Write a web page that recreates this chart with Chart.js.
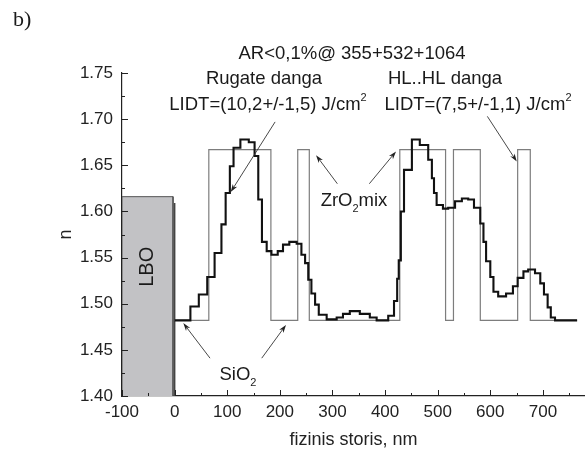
<!DOCTYPE html>
<html><head><meta charset="utf-8">
<script src="https://cdn.jsdelivr.net/npm/chart.js@4.4.0/dist/chart.umd.min.js"></script>
<style>html,body{margin:0;padding:0;background:#fff;}canvas{display:block;}</style>
</head><body>
<canvas id="c" width="585" height="455"></canvas>
<script>
// ---- data ----
const designX = [0,65,183,234,256,428,515,530,581,652,676,765];
const designN = [1.482,1.667,1.482,1.667,1.482,1.667,1.482,1.667,1.482,1.667,1.482,1.482];
const measX = [0,30,46,62,76,89,97,105,112,125,141,152,159,166,175,184,196,206,218,232,241,248,254,260,267,274,289,308,320,333,352,371,384,406,417,423,426,430,436,451,466,482,489,493,498,510,520,533,546,558,569,581,587,592,600,606,615,630,643,652,663,672,685,695,702,709,715,723,765];
const measN = [1.482,1.497,1.510,1.529,1.555,1.586,1.620,1.649,1.669,1.678,1.675,1.660,1.613,1.567,1.557,1.553,1.557,1.564,1.567,1.565,1.553,1.544,1.526,1.511,1.499,1.488,1.483,1.485,1.489,1.492,1.489,1.485,1.482,1.487,1.503,1.527,1.547,1.600,1.645,1.678,1.672,1.656,1.636,1.620,1.607,1.603,1.604,1.611,1.614,1.613,1.604,1.587,1.567,1.546,1.529,1.513,1.508,1.511,1.519,1.528,1.535,1.537,1.533,1.522,1.510,1.496,1.485,1.482,1.482];
const substrateX = [-100,-100,-3,-3];
const substrateN = [1.40,1.616,1.616,1.40];
const shadowX = [0,0];
const shadowN = [1.609,1.40];
const xTicks = [-100,0,100,200,300,400,500,600,700];
const xMinorTicks = [-50,50,150,250,350,450,550,650,750];
const yTicks = [1.40,1.45,1.50,1.55,1.60,1.65,1.70,1.75];
const yMinorTicks = [1.425,1.475,1.525,1.575,1.625,1.675,1.725];

// annotation arrows (data coords): [x0,n0,x1,n1], head at (x1,n1)
const arrows = [
  [191,1.697,106.6,1.621],
  [309.3,1.630,268.8,1.661],
  [370.1,1.630,420.8,1.665],
  [594.4,1.703,650.3,1.654],
  [67.3,1.441,16.5,1.479],
  [165.6,1.441,211.7,1.477]
];

const FONT = '"Liberation Sans", Arial, sans-serif';
const toPts = (xs, ys) => xs.map((x, i) => ({x: x, y: ys[i]}));

function drawRich(ctx, parts, x, y, size, align) {
  const small = Math.round(size * 0.62);
  let w = 0;
  const widths = parts.map(p => {
    ctx.font = (p.sub || p.sup ? small : size) + 'px ' + FONT;
    const m = ctx.measureText(p.t).width; w += m; return m;
  });
  let cx = align === 'center' ? x - w / 2 : (align === 'right' ? x - w : x);
  ctx.textAlign = 'left';
  ctx.textBaseline = 'middle';
  parts.forEach((p, i) => {
    ctx.font = (p.sub || p.sup ? small : size) + 'px ' + FONT;
    let dy = p.sub ? size * 0.42 : (p.sup ? -size * 0.38 : 0);
    ctx.fillText(p.t, cx, y + dy);
    cx += widths[i];
  });
}

const annot = {
  id: 'annot',
  afterDatasetsDraw(chart) {
    const ctx = chart.ctx, xs = chart.scales.x, ys = chart.scales.y;
    ctx.save();
    // inward ticks
    ctx.strokeStyle = '#222'; ctx.lineWidth = 1;
    const y0 = ys.getPixelForValue(1.40), x0 = xs.getPixelForValue(-100);
    ctx.beginPath();
    xTicks.forEach(v => { const p = Math.round(xs.getPixelForValue(v)) + 0.5; ctx.moveTo(p, y0); ctx.lineTo(p, y0 - 6); });
    xMinorTicks.forEach(v => { const p = Math.round(xs.getPixelForValue(v)) + 0.5; ctx.moveTo(p, y0); ctx.lineTo(p, y0 - 3); });
    yTicks.forEach(v => { const p = Math.round(ys.getPixelForValue(v)) + 0.5; ctx.moveTo(x0, p); ctx.lineTo(x0 + 6, p); });
    yMinorTicks.forEach(v => { const p = Math.round(ys.getPixelForValue(v)) + 0.5; ctx.moveTo(x0, p); ctx.lineTo(x0 + 3, p); });
    ctx.stroke();

    // arrows
    ctx.strokeStyle = '#333'; ctx.fillStyle = '#222'; ctx.lineWidth = 0.9;
    arrows.forEach(a => {
      const ax = xs.getPixelForValue(a[0]), ay = ys.getPixelForValue(a[1]);
      const bx = xs.getPixelForValue(a[2]), by = ys.getPixelForValue(a[3]);
      const ang = Math.atan2(by - ay, bx - ax);
      const L = 8, W = 2.6;
      ctx.beginPath(); ctx.moveTo(ax, ay);
      ctx.lineTo(bx - Math.cos(ang) * L * 0.7, by - Math.sin(ang) * L * 0.7); ctx.stroke();
      ctx.beginPath(); ctx.moveTo(bx, by);
      ctx.lineTo(bx - Math.cos(ang) * L - Math.sin(ang) * W, by - Math.sin(ang) * L + Math.cos(ang) * W);
      ctx.lineTo(bx - Math.cos(ang) * L * 0.7, by - Math.sin(ang) * L * 0.7);
      ctx.lineTo(bx - Math.cos(ang) * L + Math.sin(ang) * W, by - Math.sin(ang) * L - Math.cos(ang) * W);
      ctx.closePath(); ctx.fill();
    });

    // texts
    ctx.fillStyle = '#1a1a1a';
    const S = 18.5;
    drawRich(ctx, [{t: 'AR<0,1%@ 355+532+1064'}], 352, 54, S, 'center');
    drawRich(ctx, [{t: 'Rugate danga'}], 264, 79, S, 'center');
    drawRich(ctx, [{t: 'LIDT=(10,2+/-1,5) J/cm'}, {t: '2', sup: true}], 268, 105, S, 'center');
    drawRich(ctx, [{t: 'HL..HL danga'}], 445, 79, S, 'center');
    drawRich(ctx, [{t: 'LIDT=(7,5+/-1,1) J/cm'}, {t: '2', sup: true}], 478, 105, S, 'center');
    drawRich(ctx, [{t: 'ZrO'}, {t: '2', sub: true}, {t: 'mix'}], 354, 201, S, 'center');
    drawRich(ctx, [{t: 'SiO'}, {t: '2', sub: true}], 238, 375, S, 'center');

    // LBO label
    ctx.save();
    ctx.translate(xs.getPixelForValue(-52), ys.getPixelForValue(1.540));
    ctx.rotate(-Math.PI / 2);
    ctx.font = '20px ' + FONT; ctx.textAlign = 'center'; ctx.textBaseline = 'middle';
    ctx.fillText('LBO', 0, 0);
    ctx.restore();

    // panel label
    ctx.font = '22px "Liberation Serif", "DejaVu Serif", serif';
    ctx.textAlign = 'left'; ctx.textBaseline = 'middle';
    ctx.fillText('b)', 13, 20);
    ctx.restore();
  }
};

new Chart(document.getElementById('c'), {
  type: 'line',
  data: {
    datasets: [
      {label: 'measured', data: toPts(measX, measN), stepped: true, borderColor: '#111', borderWidth: 2.1, pointRadius: 0, fill: false},
      {label: 'design', data: toPts(designX, designN), stepped: true, borderColor: '#7d7d7d', borderWidth: 1.2, pointRadius: 0, fill: false},
      {label: 'shadow', data: toPts(shadowX, shadowN), borderColor: '#444', borderWidth: 1.6, pointRadius: 0, fill: false},
      {label: 'LBO', data: toPts(substrateX, substrateN), borderColor: '#555', borderWidth: 1, backgroundColor: '#c2c2c5', fill: 'start', pointRadius: 0, tension: 0}
    ]
  },
  options: {
    responsive: false, animation: false, devicePixelRatio: 1,
    layout: {padding: {top: 73, left: 0, right: 0, bottom: 0}},
    plugins: {legend: {display: false}, tooltip: {enabled: false}},
    elements: {line: {tension: 0}},
    scales: {
      x: {
        type: 'linear', min: -100, max: 780,
        afterBuildTicks: s => { s.ticks = xTicks.map(v => ({value: v})); },
        afterFit: s => { s.height = 59; },
        grid: {display: false, drawTicks: false},
        border: {display: true, color: '#222', width: 1.2},
        ticks: {padding: 6, color: '#222', font: {family: FONT, size: 17}, maxRotation: 0, autoSkip: false,
                callback: v => String(v)},
        title: {display: true, text: 'fizinis storis, nm', color: '#222', font: {family: FONT, size: 18}, padding: {top: 0, bottom: 4}}
      },
      y: {
        type: 'linear', min: 1.40, max: 1.75,
        afterBuildTicks: s => { s.ticks = yTicks.map(v => ({value: v})); },
        afterFit: s => { s.width = 122; },
        grid: {display: false, drawTicks: false},
        border: {display: true, color: '#222', width: 1.2},
        ticks: {padding: 9, color: '#222', font: {family: FONT, size: 17}, callback: v => Number(v).toFixed(2)},
        title: {display: true, text: 'n', color: '#222', font: {family: FONT, size: 18}, padding: {top: 55, bottom: 0}}
      }
    }
  },
  plugins: [annot]
});
</script>
</body></html>
